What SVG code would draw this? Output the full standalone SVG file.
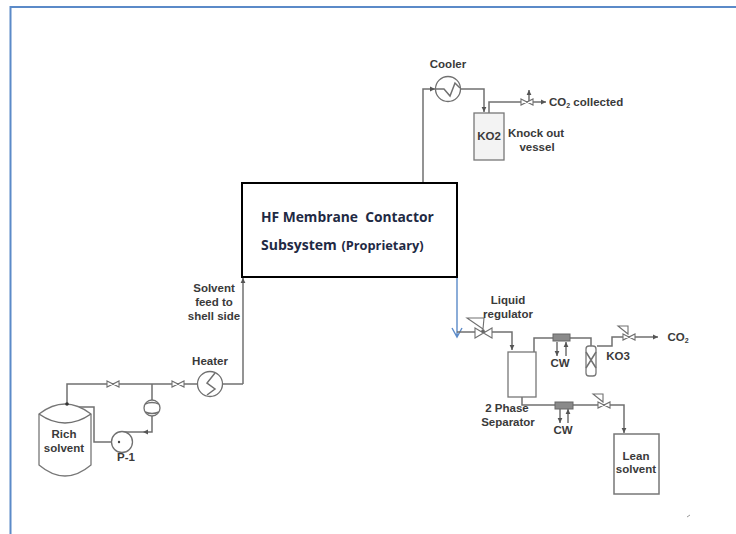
<svg xmlns="http://www.w3.org/2000/svg" width="736" height="534" viewBox="0 0 736 534">
<style>
.p{fill:none;stroke:#707070;stroke-width:1.500}
.e{fill:#fff;stroke:#707070;stroke-width:1.300}
.v{fill:#fff;stroke:#707070;stroke-width:1.100}
.h{fill:#8a8a8a;stroke:#666;stroke-width:1}
.t{font-family:"Liberation Sans",Arial,sans-serif;font-size:11.500px;font-weight:bold;fill:#3a3a3a;text-anchor:middle}
.c{font-family:"Open Sans",sans-serif;font-weight:bold;fill:#1f2a44}
.b{fill:none;stroke:#5b8ac8}
</style>
<defs>
<marker id="a" markerWidth="6" markerHeight="6" refX="5" refY="3" orient="auto" markerUnits="userSpaceOnUse"><path d="M0 .6L5 3L0 5.400z" fill="#555"/></marker>
<g id="valve"><path class="v" d="M-6-3L6 3V-3L-6 3z"/></g>
</defs>
<path id="frame" class="b" d="M10.500 534V7H736" stroke-width="2"/>
<g id="connectors">
<path class="p" d="M423 183V89H435" marker-end="url(#a)"/>
<path class="p" d="M461 89H484V112" marker-end="url(#a)"/>
<path class="p" d="M489 113V102H522"/>
<path class="p" d="M533 102H546" marker-end="url(#a)"/>
<path class="p" d="M529 102V90" marker-end="url(#a)"/>
<path class="p" d="M243 384V278" marker-end="url(#a)"/>
<path class="p" d="M67 404V384H198"/>
<path class="p" d="M222 384H243"/>
<path class="p" d="M152 384V400M152 416V432H143"/>
<path class="p" d="M143 432H122" marker-start="url(#a)"/>
<path class="p" d="M73 407H94V442H118"/>
<path class="b" d="M457 277V337M452 328L457 337L462 328" stroke-width="1.400"/>
<path class="p" d="M457 332H512V350" marker-end="url(#a)"/>
<path class="p" d="M534 352V338H591V346"/>
<path class="p" d="M597 346H612V337H658" marker-end="url(#a)"/>
<path class="p" d="M522 397V405H624V433" marker-end="url(#a)"/>
<path class="p" d="M557 342V356" marker-end="url(#a)"/>
<path class="p" d="M566 356V342" marker-end="url(#a)"/>
<path class="p" d="M560 409V423" marker-end="url(#a)"/>
<path class="p" d="M568 423V409" marker-end="url(#a)"/>
</g>
<g id="membrane"><rect x="242" y="183" width="215" height="94" fill="#fff" stroke="#000" stroke-width="2"/>
<text class="c" x="261" y="222" font-size="13.800" xml:space="preserve">HF Membrane  Contactor</text>
<text class="c" x="261" y="250" font-size="14">Subsystem <tspan font-size="12.800" dx="1">(Proprietary)</tspan></text></g>
<g id="cooler"><circle class="e" cx="448" cy="89" r="12.500"/><path class="p" d="M436 89H444L450 96L455 83L460 88"/><text class="t" x="448" y="68">Cooler</text></g>
<g id="ko2"><rect x="474" y="113" width="30" height="47" fill="#f3f3f3" stroke="#777" stroke-width="1.300"/><text class="t" x="489" y="140">KO2</text></g>
<g id="knockout"><text class="t" x="536" y="137">Knock out</text><text class="t" x="537" y="151">vessel</text></g>
<g id="valve-co2"><use href="#valve" x="527" y="102"/></g>
<g id="co2-collected"><text class="t" x="549" y="106" style="text-anchor:start">CO<tspan font-size="7" dy="2">2</tspan><tspan dy="-2"> collected</tspan></text></g>
<g id="feed-label"><text class="t" x="214" y="292">Solvent</text><text class="t" x="214" y="306">feed to</text><text class="t" x="214" y="320">shell side</text></g>
<g id="heater"><circle class="e" cx="210" cy="384" r="12.500"/><path class="p" d="M215 373L207 383L215 389L207 395"/><text class="t" x="210" y="365">Heater</text></g>
<g id="v1"><use href="#valve" x="113" y="384"/></g>
<g id="v2"><use href="#valve" x="178" y="384"/></g>
<g id="meter"><circle class="e" cx="152" cy="408" r="8"/><path class="p" d="M145 404Q152 401 159 404M145 412Q152 415 159 412"/></g>
<g id="tank"><path d="M39 414Q65 394 91 414V465Q65 487 39 465z" fill="#fff" stroke="#777" stroke-width="1.300"/><path class="p" d="M39 414Q65 432 91 414"/><circle cx="67" cy="404" r="1.800" fill="#333"/><text class="t" x="64" y="438">Rich</text><text class="t" x="64" y="452">solvent</text></g>
<g id="pump"><circle class="e" cx="122" cy="442" r="10.500"/><circle cx="119" cy="442" r="1.200" fill="#444"/><text class="t" x="126" y="461">P-1</text></g>
<g id="liquid-reg"><path class="v" d="M467 318H484L483 329z"/><path class="v" d="M475 328L492 338V328L475 338z"/><circle cx="483" cy="331" r="1.800" fill="#666"/><text class="t" x="508" y="304">Liquid</text><text class="t" x="508" y="318">regulator</text></g>
<g id="separator"><rect x="508" y="352" width="28" height="45" fill="#fff" stroke="#777" stroke-width="1.300"/><text class="t" x="507" y="412">2 Phase</text><text class="t" x="508" y="426">Separator</text></g>
<g id="hx1"><rect class="h" x="553" y="334" width="17" height="7"/><text class="t" x="560" y="367">CW</text></g>
<g id="ko3"><rect x="586" y="346" width="10" height="30" rx="3" fill="#fff" stroke="#777" stroke-width="1.300"/><path class="p" d="M586 352L596 368M596 352L586 368"/><text class="t" x="618" y="360">KO3</text></g>
<g id="v3"><path class="v" d="M618 326H628V334z"/><use href="#valve" x="629" y="337"/></g>
<g id="co2-out"><text class="t" x="678" y="341">CO<tspan font-size="7" dy="2">2</tspan></text></g>
<g id="hx2"><rect class="h" x="555" y="402" width="18" height="7"/><text class="t" x="563" y="434">CW</text></g>
<g id="v4"><path class="v" d="M593 394H603V402z"/><use href="#valve" x="604" y="405"/></g>
<g id="lean"><rect x="614" y="434" width="45" height="60" fill="#fff" stroke="#777" stroke-width="1.500"/><text class="t" x="636" y="460">Lean</text><text class="t" x="636" y="473">solvent</text></g>
<path d="M687 517L690 515" stroke="#999"/>
</svg>
